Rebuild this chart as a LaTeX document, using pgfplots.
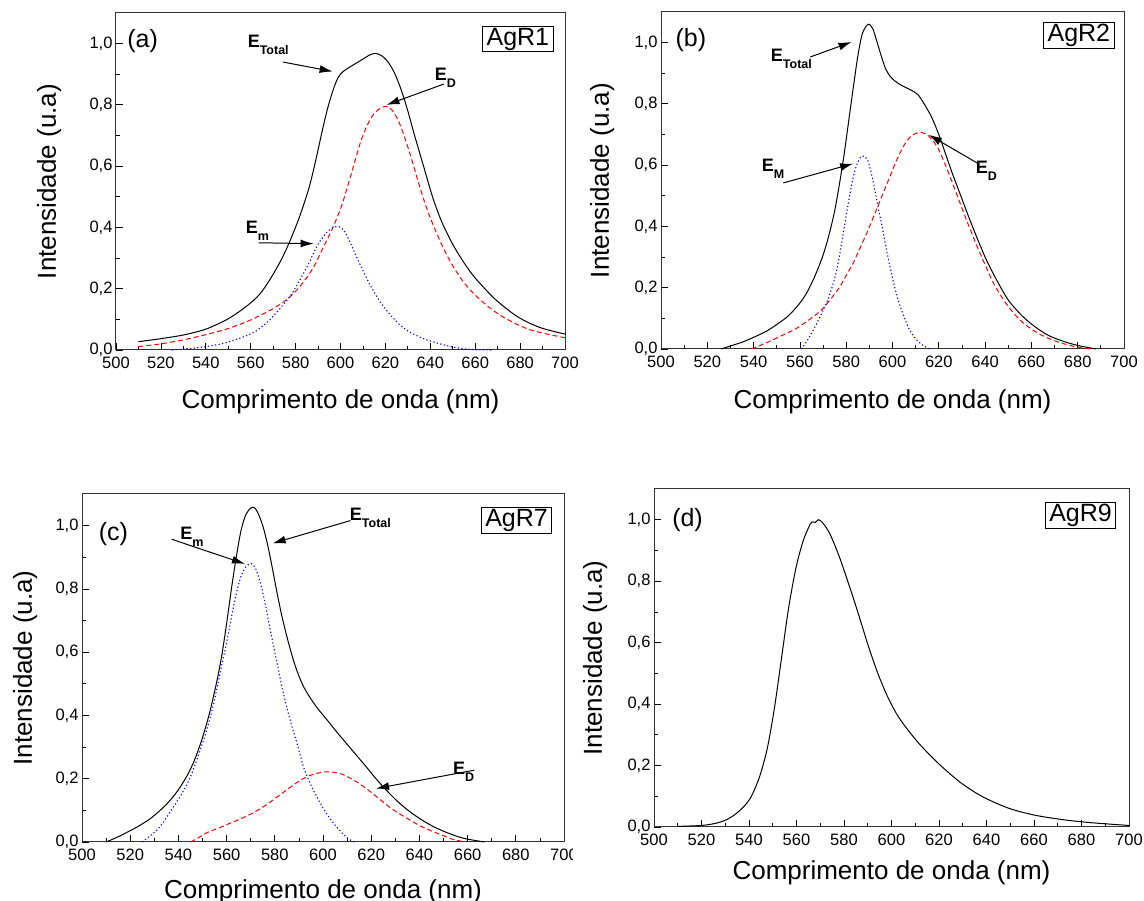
\documentclass[border=0pt]{standalone}
\usepackage{fontspec}
\setmainfont{Liberation Sans}
\usepackage{pgfplots}
\pgfplotsset{compat=1.18}
\usetikzlibrary{arrows.meta}

% E label with bold subscript, as in the Origin figure
\newcommand{\El}[1]{\fontsize{18}{20}\selectfont\bfseries E\raisebox{-7pt}{\fontsize{12.5}{14}\selectfont #1}}
\newcommand{\sz}[1]{\fontsize{#1}{#1}\selectfont}

\tikzset{
  arr/.style={-{Latex[length=13pt, width=8pt]}, line width=1pt},
  lab/.style={font=\sz{25}, anchor=base west, inner sep=0pt},
  box/.style={draw, line width=0.8pt, font=\sz{25}, inner xsep=4pt, inner ysep=1.5pt},
}
\pgfplotsset{
  panel/.style={
    scale only axis, clip=false,
    xmin=500, xmax=700, ymin=0, ymax=1.1,
    xtick={500,520,...,700}, ytick={0,0.2,0.4,0.6,0.8,1.0},
    minor x tick num=1, minor y tick num=1,
    tick align=inside, tick pos=left,
    major tick length=7pt, minor tick length=4pt,
    axis line style={line width=1pt, black!80},
    every tick/.style={black, line width=0.8pt},
    /pgf/number format/assume math mode=true,
    tick label style={font=\sz{16.5}},
    xticklabel style={yshift=-3pt, /pgf/number format/1000 sep={}},
    yticklabel style={/pgf/number format/.cd, fixed, fixed zerofill, precision=1, use comma},
    label style={font=\sz{26}},
    xlabel={Comprimento de onda (nm)},
    ylabel={Intensidade (u.a)},
  },
  tot/.style={black, line width=1pt, smooth},
  ed/.style={red, line width=1pt, dash pattern=on 5pt off 3pt, smooth},
  em/.style={blue, line width=1.1pt, dash pattern=on 1.2pt off 2.4pt, smooth},
}

\begin{document}
\begin{tikzpicture}
\useasboundingbox (0pt,0pt) rectangle (1144pt,901pt);

% ---------- (a) AgR1 ----------
\begin{axis}[panel, at={(116pt,551pt)}, anchor=south west, width=449pt, height=337pt,
  xlabel style={at={(axis description cs:0.5,-0.175)}, anchor=base},
  ylabel style={at={(axis description cs:-0.149,0.5)}, anchor=center}]
\addplot[tot] coordinates {(510,0.027)(520,0.037)(530,0.049)(540,0.068)(550,0.102)(558,0.142)(564,0.182)(569,0.235)(574,0.3)(578,0.365)(582,0.44)(586,0.53)(589,0.62)(592,0.72)(594.5,0.795)(597,0.855)(599,0.89)(601,0.908)(604,0.923)(609,0.945)(613,0.963)(615.5,0.968)(618,0.962)(621,0.942)(624,0.905)(627,0.85)(630,0.78)(633,0.70)(637,0.60)(641,0.50)(645,0.42)(650,0.345)(655,0.285)(660,0.235)(669,0.165)(679,0.108)(689,0.073)(700,0.052)};
\addplot[ed] coordinates {(510,0.011)(520,0.02)(530,0.033)(540,0.05)(550,0.07)(560,0.098)(570,0.135)(577,0.17)(583,0.217)(588,0.27)(592,0.33)(596,0.39)(600,0.46)(603,0.53)(606,0.605)(609,0.68)(612,0.735)(615,0.772)(618,0.79)(620.5,0.795)(623,0.783)(626,0.745)(629,0.685)(632,0.615)(635,0.54)(639,0.45)(645,0.345)(650,0.275)(655,0.22)(661,0.172)(671,0.114)(684,0.067)(700,0.04)};
\addplot[em] coordinates {(525,0)(533,0.005)(540,0.011)(548,0.022)(555,0.038)(562,0.06)(568,0.095)(573,0.135)(578,0.18)(582,0.23)(586,0.285)(590,0.345)(594,0.385)(597,0.40)(599.5,0.402)(602,0.385)(605,0.34)(608,0.29)(613,0.215)(617,0.165)(621,0.125)(626,0.085)(630,0.062)(636,0.04)(641,0.027)(648,0.013)(654,0.005)(660,0.001)(668,0)};
\node[lab] at (axis cs:505,0.987) {(a)};
\node[box] at (axis cs:679,1.015) {AgR1};
\node[lab] at (axis cs:558.6,0.987) {\El{Total}};
\draw[arr] (axis cs:574.3,0.94) -- (axis cs:596.5,0.909);
\node[lab] at (axis cs:641.9,0.878) {\El{D}};
\draw[arr] (axis cs:646,0.868) -- (axis cs:620.5,0.80);
\node[lab] at (axis cs:557.8,0.38) {\El{m}};
\draw[arr] (axis cs:563.5,0.35) -- (axis cs:588,0.347);
\end{axis}

% ---------- (b) AgR2 ----------
\begin{axis}[panel, at={(661pt,552pt)}, anchor=south west, width=463pt, height=337pt,
  xlabel style={at={(axis description cs:0.5,-0.178)}, anchor=base},
  ylabel style={at={(axis description cs:-0.127,0.5)}, anchor=center}]
\addplot[tot] coordinates {(526,0)(530,0.01)(535,0.022)(540,0.038)(546,0.06)(550,0.08)(555,0.108)(560,0.15)(563,0.184)(566,0.23)(569,0.285)(571,0.33)(573,0.385)(575,0.45)(577,0.535)(579,0.63)(581,0.74)(583,0.85)(585,0.955)(587,1.03)(589.5,1.06)(591.5,1.045)(593,1.01)(595,0.96)(597,0.915)(599,0.89)(601,0.875)(604,0.86)(608,0.845)(611,0.83)(614,0.796)(617,0.755)(620,0.70)(623,0.635)(626,0.57)(629,0.51)(634,0.41)(640,0.30)(645,0.225)(650,0.16)(656,0.108)(662,0.07)(668,0.042)(675,0.022)(681,0.01)(688,0)};
\addplot[ed] coordinates {(539,0)(543,0.012)(547,0.025)(552,0.043)(558,0.065)(563,0.09)(569,0.125)(573,0.16)(577,0.2)(580,0.24)(583,0.28)(586,0.33)(589,0.38)(592,0.435)(595.5,0.50)(599,0.565)(602,0.62)(605,0.665)(608,0.695)(611.5,0.707)(614,0.703)(617,0.685)(620,0.65)(623,0.598)(626,0.54)(629,0.48)(632,0.42)(636,0.345)(640,0.275)(644,0.21)(648,0.16)(652,0.12)(656,0.088)(661,0.06)(665,0.043)(670,0.027)(675,0.015)(680,0.006)(686,0)};
\addplot[em] coordinates {(560.5,0)(563,0.025)(566,0.065)(569,0.11)(572,0.16)(575,0.23)(577,0.30)(579,0.39)(581,0.48)(583,0.56)(585,0.61)(587,0.63)(589,0.62)(590.5,0.585)(592.5,0.515)(594,0.455)(595.5,0.40)(597,0.34)(598.6,0.28)(601,0.20)(603.3,0.14)(606,0.085)(608,0.054)(611,0.025)(614,0.008)(616,0)};
\node[lab] at (axis cs:506.2,0.986) {(b)};
\node[box] at (axis cs:680.5,1.023) {AgR2};
\node[lab] at (axis cs:547.4,0.937) {\El{Total}};
\draw[arr] (axis cs:564.4,0.953) -- (axis cs:582.3,1.002);
\node[lab] at (axis cs:543.5,0.58) {\El{M}};
\draw[arr] (axis cs:552.8,0.542) -- (axis cs:583,0.605);
\node[lab] at (axis cs:635.9,0.574) {\El{D}};
\draw[arr] (axis cs:636.6,0.607) -- (axis cs:615.7,0.699);
\end{axis}

% ---------- (c) AgR7 ----------
\begin{axis}[panel, at={(82pt,59pt)}, anchor=south west, width=482pt, height=348pt,
  xlabel style={at={(axis description cs:0.5,-0.162)}, anchor=base},
  ylabel style={at={(axis description cs:-0.118,0.5)}, anchor=center}]
\addplot[tot] coordinates {(510,0)(514,0.013)(518,0.028)(523,0.048)(528,0.072)(532,0.097)(536,0.127)(540,0.165)(544,0.215)(547,0.265)(550,0.33)(553,0.41)(556,0.51)(558,0.59)(560,0.69)(562,0.8)(564,0.9)(566,0.985)(568,1.035)(570,1.055)(571.5,1.057)(573,1.04)(575,1.0)(577,0.94)(579,0.865)(581,0.785)(583,0.712)(585.5,0.635)(588,0.568)(590,0.525)(592,0.49)(595,0.452)(598,0.42)(602,0.383)(606,0.345)(610,0.309)(614,0.273)(618,0.237)(622,0.2)(626,0.166)(630,0.135)(634,0.108)(638,0.085)(642,0.065)(646,0.048)(651,0.031)(656,0.017)(660,0.009)(667,0)};
\addplot[em] coordinates {(525,0)(528,0.018)(531,0.037)(534,0.065)(537,0.10)(540,0.135)(543,0.174)(546,0.225)(549,0.29)(552,0.36)(555,0.45)(558,0.56)(560,0.63)(562,0.71)(564,0.785)(566,0.84)(568,0.87)(570.3,0.88)(572,0.865)(574,0.82)(576,0.754)(578,0.675)(580,0.6)(583,0.49)(585.5,0.41)(587.6,0.353)(590,0.29)(592,0.235)(595,0.18)(598,0.135)(601,0.095)(604.5,0.058)(608,0.028)(611,0.008)(613,0)};
\addplot[ed] coordinates {(545,0)(548,0.012)(552,0.03)(557,0.045)(561,0.058)(566,0.074)(571,0.092)(576,0.115)(580,0.137)(585,0.165)(589,0.187)(593,0.205)(597,0.216)(601.5,0.222)(605,0.22)(608,0.214)(611,0.203)(614,0.19)(617,0.174)(620,0.157)(624,0.132)(628,0.108)(632,0.088)(636,0.07)(640,0.052)(645,0.035)(650,0.02)(654,0.008)(659,0)};
\node[lab] at (axis cs:506.9,0.953) {(c)};
\node[box] at (axis cs:680.3,1.017) {AgR7};
\node[lab] at (axis cs:540.7,0.955) {\El{m}};
\draw[arr] (axis cs:537.2,0.957) -- (axis cs:567.6,0.879);
\node[lab] at (axis cs:611.1,1.016) {\El{Total}};
\draw[arr] (axis cs:611.4,1.016) -- (axis cs:579.1,0.944);
\node[lab] at (axis cs:653.9,0.214) {\El{D}};
\draw[arr] (axis cs:662.8,0.227) -- (axis cs:622,0.169);
\end{axis}

% ---------- (d) AgR9 ----------
\begin{axis}[panel, at={(654pt,74pt)}, anchor=south west, width=475pt, height=338pt,
  xlabel style={at={(axis description cs:0.5,-0.154)}, anchor=base},
  ylabel style={at={(axis description cs:-0.124,0.5)}, anchor=center}]
\addplot[tot] coordinates {(510,0.002)(520,0.005)(526,0.012)(530,0.022)(534,0.04)(538,0.068)(541,0.1)(544.5,0.165)(547.7,0.256)(550.7,0.387)(553.7,0.55)(556.7,0.714)(559.8,0.844)(562.8,0.931)(565.8,0.986)(567,0.993)(568,0.991)(569.2,1.0)(571,0.99)(574,0.955)(578,0.88)(582,0.79)(586,0.695)(590,0.595)(594,0.505)(598,0.43)(602,0.37)(606,0.325)(612,0.268)(620,0.205)(629,0.145)(638,0.1)(649,0.062)(660,0.039)(672,0.024)(684,0.014)(700,0.005)};
\node[lab] at (axis cs:507.6,0.977) {(d)};
\node[box] at (axis cs:679.6,1.014) {AgR9};
\end{axis}

% the "700" of panel (c) is cut off in the original
\fill[white] (573pt,20pt) rectangle (600pt,60pt);
\end{tikzpicture}
\end{document}
